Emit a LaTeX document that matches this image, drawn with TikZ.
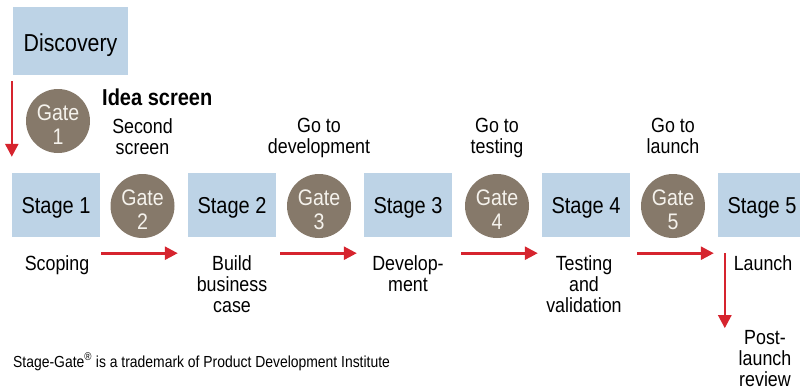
\documentclass[tikz,border=0pt]{standalone}
\usepackage{fontspec}
\setmainfont{Liberation Sans}[FakeStretch=0.87]
\usetikzlibrary{arrows.meta}
\definecolor{stageblue}{RGB}{189,211,230}
\definecolor{gatebrown}{RGB}{134,121,106}
\definecolor{flowred}{RGB}{214,36,46}
\definecolor{gatetext}{RGB}{245,242,236}
\begin{document}
\begin{tikzpicture}[x=1pt,y=-1pt,
  stagebox/.style={fill=stageblue,minimum width=88pt,minimum height=64pt,inner sep=0pt,
    text depth=0pt,font=\fontsize{23}{23}\selectfont},
  gatedisc/.style={circle,fill=gatebrown,minimum size=64pt,inner sep=0pt},
  gatelbl/.style={inner sep=0pt,align=center,text=gatetext,yshift=-3.5pt,
    font=\fontsize{22.5}{24.5}\selectfont},
  lbl/.style={inner sep=0pt,align=center,anchor=north,font=\fontsize{20.5}{21}\selectfont},
  flow/.style={draw=flowred,line width=2.6pt,-{Triangle[length=13pt,width=13pt]}}]
\useasboundingbox (0,0) rectangle (800,389);

% discovery and idea screen
\node[stagebox,minimum width=115pt,minimum height=68pt,font=\fontsize{24.5}{24.5}\selectfont] (disc) at (70.5,41) {};
\node[inner sep=0pt,text depth=0pt,font=\fontsize{24.5}{24.5}\selectfont] (disct) at (70.5,42.5) {Discovery};
\node[gatedisc] (g1) at (58,121) {};
\node[gatelbl] (g1t) at (g1) {Gate\\1};
\node[inner sep=0pt,anchor=north west,font=\bfseries\fontsize{23}{23}\selectfont] (idea) at (102,89) {Idea screen};

% stages
\node[stagebox] (s1) at (56,205) {Stage 1};
\node[stagebox] (s2) at (232,205) {Stage 2};
\node[stagebox] (s3) at (408,205) {Stage 3};
\node[stagebox] (s4) at (586,205) {Stage 4};
\node[stagebox] (s5) at (762,205) {Stage 5};

% gates
\node[gatedisc] (g2) at (142.5,206) {};
\node[gatedisc] (g3) at (319,206) {};
\node[gatedisc] (g4) at (497,206) {};
\node[gatedisc] (g5) at (673,206) {};
\node[gatelbl] (g2t) at (g2) {Gate\\2};
\node[gatelbl] (g3t) at (g3) {Gate\\3};
\node[gatelbl] (g4t) at (g4) {Gate\\4};
\node[gatelbl] (g5t) at (g5) {Gate\\5};

% gate decisions
\node[lbl] (l2) at (142.5,118) {Second\\screen};
\node[lbl] (l3) at (319,118) {Go to\\development};
\node[lbl] (l4) at (497,118) {Go to\\testing};
\node[lbl] (l5) at (673,118) {Go to\\launch};

% stage activities
\node[lbl] (a1) at (57,255) {Scoping};
\node[lbl] (a2) at (232,255) {Build\\business\\case};
\node[lbl] (a3) at (408,255) {Develop-\\ment};
\node[lbl] (a4) at (584,255) {Testing\\and\\validation};
\node[lbl] (a5) at (763,255) {Launch};
\node[lbl] (a6) at (765,330) {Post-\\launch\\review};

% flow arrows
\draw[flow] ([xshift=-1pt,yshift=-6pt]disc.south west) -- ([xshift=0pt,yshift=16pt]s1.north west);
\draw[flow] ([xshift=1pt,yshift=-16pt]s1.south east) -- ([xshift=-10pt,yshift=-16pt]s2.south west);
\draw[flow] ([xshift=4pt,yshift=-16pt]s2.south east) -- ([xshift=-7pt,yshift=-16pt]s3.south west);
\draw[flow] ([xshift=9pt,yshift=-16pt]s3.south east) -- ([xshift=-4pt,yshift=-16pt]s4.south west);
\draw[flow] ([xshift=7pt,yshift=-16pt]s4.south east) -- ([xshift=-4pt,yshift=-16pt]s5.south west);
\coordinate (r0) at ([xshift=7pt,yshift=-16pt]s5.south west);
\coordinate (r1) at ([xshift=7pt,yshift=-91pt]s5.south west);
\draw[flow] (r0) -- (r1);

% footnote
\node[inner sep=0pt,anchor=base west,font=\fontsize{16}{16}\selectfont] (note) at (13,367)
  {Stage-Gate\textsuperscript{\textregistered} is a trademark of Product Development Institute};
\end{tikzpicture}
\end{document}
